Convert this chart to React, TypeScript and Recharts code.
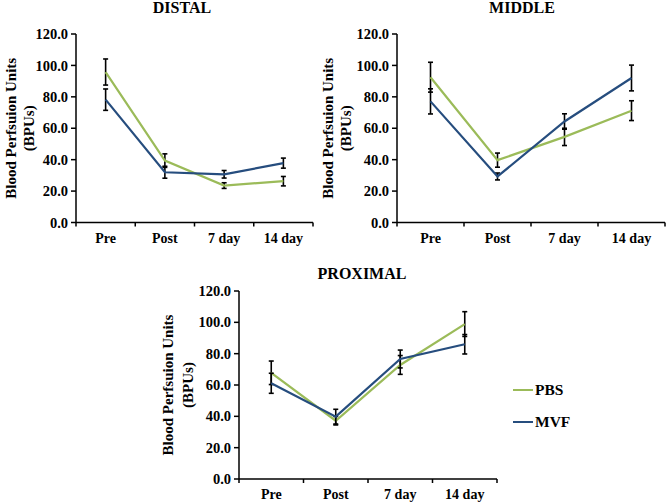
import React from 'react';
import { LineChart, Line, XAxis, YAxis, ErrorBar, Legend } from 'recharts';

const FONT = '"Liberation Serif", "Times New Roman", serif';

const categories = ['Pre', 'Post', '7 day', '14 day'];
const yTicks = [0, 20, 40, 60, 80, 100, 120];
const seriesNames = ['PBS', 'MVF'];
const seriesColors = ['#9BBB59', '#264D7E'];

const distalPBS = [95.8, 39.4, 23.5, 26.3];
const distalPBSErr = [8.3, 4.3, 1.8, 3.0];
const distalMVF = [78.2, 32.0, 30.7, 37.8];
const distalMVFErr = [6.8, 3.8, 2.4, 3.2];

const middlePBS = [92.5, 39.7, 54.5, 71.2];
const middlePBSErr = [9.5, 4.5, 5.5, 6.3];
const middleMVF = [77.1, 29.3, 64.3, 92.0];
const middleMVFErr = [8.0, 2.2, 4.9, 8.2];

const proximalPBS = [67.8, 37.2, 72.8, 98.9];
const proximalPBSErr = [7.5, 2.7, 6.0, 7.9];
const proximalMVF = [61.1, 39.8, 76.6, 86.0];
const proximalMVFErr = [6.4, 4.7, 5.7, 6.2];

const buildRows = (pbs: number[], pbsErr: number[], mvf: number[], mvfErr: number[]) =>
  categories.map((cat, i) => ({ cat, pbs: pbs[i], pbsErr: pbsErr[i], mvf: mvf[i], mvfErr: mvfErr[i] }));

const distalRows = buildRows(distalPBS, distalPBSErr, distalMVF, distalMVFErr);
const middleRows = buildRows(middlePBS, middlePBSErr, middleMVF, middleMVFErr);
const proximalRows = buildRows(proximalPBS, proximalPBSErr, proximalMVF, proximalMVFErr);

const makeXTick = (halfBand: number, count: number) => (props: any) => {
  const { x, y, payload, index } = props;
  return (
    <g>
      <line x1={x - halfBand} y1={y} x2={x - halfBand} y2={y + 4} stroke="#000" strokeWidth={1.5} />
      {index === count - 1 && (
        <line x1={x + halfBand} y1={y} x2={x + halfBand} y2={y + 4} stroke="#000" strokeWidth={1.5} />
      )}
      <text x={x} y={y + 20} textAnchor="middle" fontFamily={FONT} fontWeight="bold" fontSize={14} fill="#000">
        {payload.value}
      </text>
    </g>
  );
};

const makeYTitle = (offsets: number[]) => (props: any) => {
  const vb = props.viewBox || {};
  const ax = (vb.x || 0) + (vb.width || 0);
  const cy = (vb.y || 0) + (vb.height || 0) / 2;
  return (
    <g>
      <text
        transform={`translate(${ax + offsets[0]},${cy}) rotate(-90)`}
        textAnchor="middle"
        dominantBaseline="central"
        fontFamily={FONT}
        fontWeight="bold"
        fontSize={15}
        fill="#000"
      >
        Blood Perfsuion Units
      </text>
      <text
        transform={`translate(${ax + offsets[1]},${cy}) rotate(-90)`}
        textAnchor="middle"
        dominantBaseline="central"
        fontFamily={FONT}
        fontWeight="bold"
        fontSize={15}
        fill="#000"
      >
        (BPUs)
      </text>
    </g>
  );
};

const LegendContent = (props: any) => {
  const items = [...(props.payload || [])].sort(
    (a: any, b: any) => seriesNames.indexOf(a.value) - seriesNames.indexOf(b.value)
  );
  return (
    <div style={{ fontFamily: FONT, fontWeight: 'bold', fontSize: 15.5, color: '#000' }}>
      {items.map((e: any, i: number) => (
        <div key={i} style={{ display: 'flex', alignItems: 'center', height: 32 }}>
          <span style={{ display: 'inline-block', width: 20, height: 2, background: e.color, marginRight: 2 }} />
          <span>{e.value}</span>
        </div>
      ))}
    </div>
  );
};

type PanelProps = {
  title: string;
  titleX: number;
  titleY: number;
  left: number;
  top: number;
  width: number;
  height: number;
  margin: { top: number; right: number; bottom: number; left: number };
  yAxisWidth: number;
  xAxisHeight: number;
  labelOffsets: number[];
  rows: any[];
  legend?: boolean;
};

const Panel = (p: PanelProps) => {
  const plotWidth = p.width - p.margin.left - p.margin.right - p.yAxisWidth;
  const halfBand = plotWidth / categories.length / 2;
  return (
    <>
      <div
        style={{
          position: 'absolute',
          left: p.titleX - 100,
          top: p.titleY,
          width: 200,
          textAlign: 'center',
          fontFamily: FONT,
          fontWeight: 'bold',
          fontSize: 16,
          lineHeight: '16px',
          color: '#000',
        }}
      >
        {p.title}
      </div>
      <div style={{ position: 'absolute', left: p.left, top: p.top }}>
        <LineChart width={p.width} height={p.height} data={p.rows} margin={p.margin}>
          <XAxis
            dataKey="cat"
            type="category"
            scale="band"
            interval={0}
            height={p.xAxisHeight}
            tickSize={0}
            tickMargin={0}
            tickLine={false}
            axisLine={{ stroke: '#000', strokeWidth: 1.5 }}
            tick={makeXTick(halfBand, categories.length)}
          />
          <YAxis
            type="number"
            domain={[0, 120]}
            ticks={yTicks}
            interval={0}
            width={p.yAxisWidth}
            tickFormatter={(v: number) => v.toFixed(1)}
            tickSize={5}
            tickMargin={3}
            tickLine={{ stroke: '#000', strokeWidth: 1.5 }}
            axisLine={{ stroke: '#000', strokeWidth: 1.5 }}
            tick={{ fill: '#000', fontSize: 14.5, fontWeight: 'bold', fontFamily: FONT }}
            label={{ content: makeYTitle(p.labelOffsets) }}
          />
          {p.legend && (
            <Legend
              layout="vertical"
              align="center"
              verticalAlign="middle"
              content={LegendContent}
              wrapperStyle={{ left: 363, top: 124, width: 80 }}
            />
          )}
          <Line
            type="linear"
            dataKey="pbs"
            name={seriesNames[0]}
            stroke={seriesColors[0]}
            strokeWidth={2.2}
            dot={false}
            activeDot={false}
            isAnimationActive={false}
          >
            <ErrorBar dataKey="pbsErr" width={2.5} stroke="#000" strokeWidth={1.6} direction="y" isAnimationActive={false} />
          </Line>
          <Line
            type="linear"
            dataKey="mvf"
            name={seriesNames[1]}
            stroke={seriesColors[1]}
            strokeWidth={2.2}
            dot={false}
            activeDot={false}
            isAnimationActive={false}
          >
            <ErrorBar dataKey="mvfErr" width={2.5} stroke="#000" strokeWidth={1.6} direction="y" isAnimationActive={false} />
          </Line>
        </LineChart>
      </div>
    </>
  );
};

export default function App() {
  return (
    <div style={{ position: 'absolute', left: 0, top: 0, width: 666, height: 502, background: '#fff', overflow: 'hidden' }}>
      <Panel
        title="DISTAL"
        titleX={182}
        titleY={0}
        left={0}
        top={0}
        width={316}
        height={250}
        margin={{ top: 34, right: 3, bottom: 0, left: 0 }}
        yAxisWidth={76}
        xAxisHeight={27.5}
        labelOffsets={[-65, -47]}
        rows={distalRows}
      />
      <Panel
        title="MIDDLE"
        titleX={522}
        titleY={0}
        left={316}
        top={0}
        width={350}
        height={250}
        margin={{ top: 34, right: 1, bottom: 0, left: 0 }}
        yAxisWidth={81}
        xAxisHeight={27.5}
        labelOffsets={[-69, -51]}
        rows={middleRows}
      />
      <Panel
        title="PROXIMAL"
        titleX={362}
        titleY={266}
        left={150}
        top={250}
        width={516}
        height={252}
        margin={{ top: 41, right: 169, bottom: 0, left: 0 }}
        yAxisWidth={89}
        xAxisHeight={23}
        labelOffsets={[-71, -51]}
        rows={proximalRows}
        legend
      />
    </div>
  );
}
